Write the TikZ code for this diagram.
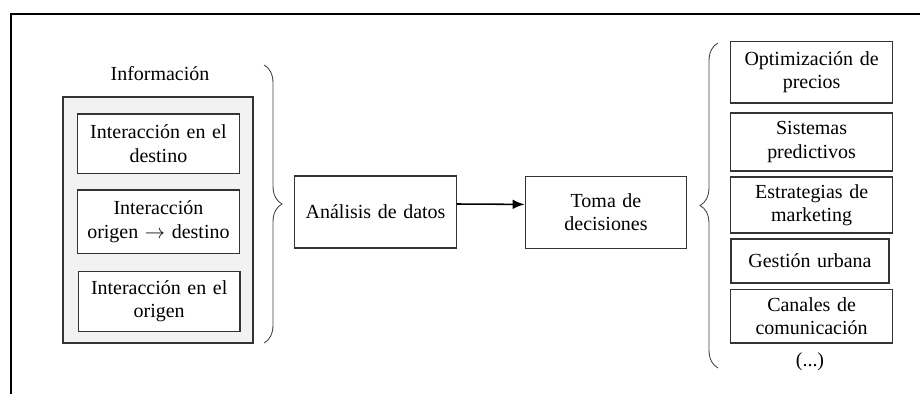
\documentclass[tikz,border=0pt]{standalone}
\usepackage{fontspec}
\setmainfont{Liberation Serif}
\usetikzlibrary{decorations.pathreplacing,arrows.meta}

\begin{document}
\begin{tikzpicture}[
    every node/.style={font=\fontsize{14.2}{16.6}\selectfont},
    box/.style={rectangle,draw=black!80,line width=0.8pt,fill=white,align=center,inner sep=2pt,text width=3.9cm},
    infobox/.style={rectangle,draw=black!80,line width=0.8pt,fill=black!5,minimum width=4.75cm,minimum height=6.15cm},
    curly/.style={decorate,decoration={brace,amplitude=0.45cm},draw=black!75,semithick}]
    \useasboundingbox (0,0) rectangle (23,-9.85);
    % frame
    \draw[line width=1.3pt] (0.275,-9.85) -- (0.275,-0.35) -- (23,-0.35);

    % information block
    \node (Info) at (4.0,-1.83) {Información};
    \node[infobox] (InfoBox) at (3.95,-5.5) {};
    \node[box,minimum height=1.48cm] (Dest) at (3.96,-3.59) {Interacción en el\\destino};
    \node[box,minimum height=1.58cm] (OrDe) at (3.96,-5.54) {Interacción\\origen $\rightarrow$ destino};
    \node[box,minimum height=1.5cm] (Orig) at (3.98,-7.53) {Interacción en el\\origen};

    % analysis and decisions
    \node[box,minimum height=1.8cm] (Ana) at (9.39,-5.3) {Análisis de datos};
    \node[box,minimum height=1.8cm] (Toma) at (15.15,-5.31) {Toma de\\decisiones};

    % applications
    \node[box,minimum height=1.53cm] (Opt) at (20.29,-1.81) {Optimización de\\precios};
    \node[box,minimum height=1.45cm] (Sis) at (20.29,-3.55) {Sistemas\\predictivos};
    \node[box,minimum height=1.4cm] (Est) at (20.29,-5.125) {Estrategias de\\marketing};
    \node[box,minimum height=1.1cm,text width=3.81cm] (Gest) at (20.25,-6.525) {Gestión urbana};
    \node[box,minimum height=1.33cm] (Can) at (20.29,-7.91) {Canales de\\comunicación};
    \node (More) at (20.25,-9.05) {(...)};

    \coordinate (BraceA) at (6.6,-1.625);
    \coordinate (BraceB) at (6.6,-8.575);
    \coordinate (BraceC) at (17.95,-9.2);
    \coordinate (BraceD) at (17.95,-1.075);

    \draw[curly] (BraceA) -- (BraceB);
    \draw[curly] (BraceC) -- (BraceD);
    \draw[-{Latex[length=3mm,width=2.4mm]},line width=1.1pt] ([yshift=0.2cm]Ana.east) -- ([yshift=0.2cm]Toma.west);
\end{tikzpicture}
\end{document}
